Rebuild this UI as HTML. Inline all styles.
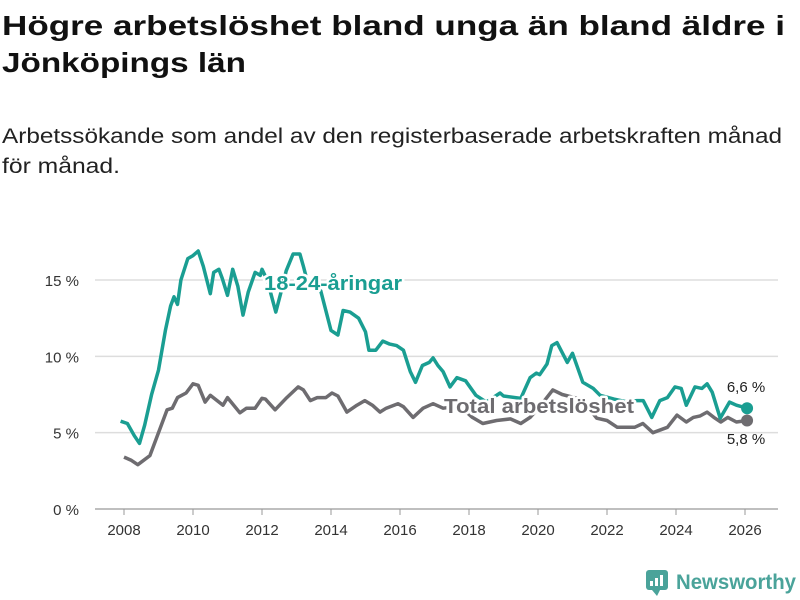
<!DOCTYPE html>
<html><head><meta charset="utf-8">
<style>
html,body{margin:0;padding:0;background:#fff;}
svg{display:block;font-family:"Liberation Sans","DejaVu Sans",sans-serif;}
</style></head>
<body>
<svg id="chart" width="800" height="600" viewBox="0 0 800 600">
  <text x="2" y="35" font-size="28" font-weight="bold" fill="#111" textLength="783" lengthAdjust="spacingAndGlyphs">Högre arbetslöshet bland unga än bland äldre i</text>
  <text x="2" y="72" font-size="28" font-weight="bold" fill="#111" textLength="244" lengthAdjust="spacingAndGlyphs">Jönköpings län</text>
  <text x="2" y="143" font-size="21" fill="#222" textLength="780" lengthAdjust="spacingAndGlyphs">Arbetssökande som andel av den registerbaserade arbetskraften månad</text>
  <text x="2" y="173" font-size="21" fill="#222" textLength="118" lengthAdjust="spacingAndGlyphs">för månad.</text>
  <g id="grid"></g>
  <g id="xaxis"></g>
  <g id="series"></g>
  <g id="labels"></g>
  <g>
    <rect x="646" y="570" width="22" height="20" rx="3" fill="#4aa39a"/>
    <path d="M652 590 L657 596 L660 590 Z" fill="#4aa39a"/>
    <rect x="650" y="581" width="3" height="5" fill="#fff"/>
    <rect x="655" y="578" width="3" height="8" fill="#fff"/>
    <rect x="660" y="575" width="3" height="11" fill="#fff"/>
    <text x="676" y="589" font-size="21" font-weight="bold" fill="#4aa39a" textLength="120" lengthAdjust="spacingAndGlyphs">Newsworthy</text>
  </g>
</svg>
<script>
const yTicks = [0, 5, 10, 15];
const xTicks = [2008, 2010, 2012, 2014, 2016, 2018, 2020, 2022, 2024, 2026];
const youthDates = [2007.9,2008.1,2008.3,2008.45,2008.6,2008.8,2009.0,2009.2,2009.35,2009.45,2009.55,2009.65,2009.85,2010.0,2010.15,2010.3,2010.5,2010.6,2010.75,2010.85,2011.0,2011.15,2011.3,2011.45,2011.6,2011.8,2011.95,2012.0,2012.15,2012.4,2012.55,2012.7,2012.9,2013.1,2013.2,2013.35,2013.7,2014.0,2014.2,2014.35,2014.55,2014.8,2015.0,2015.1,2015.3,2015.5,2015.7,2015.9,2016.1,2016.3,2016.45,2016.65,2016.85,2016.96,2017.1,2017.25,2017.45,2017.65,2017.9,2018.2,2018.5,2018.9,2019.0,2019.5,2019.77,2019.95,2020.05,2020.26,2020.4,2020.55,2020.85,2021.0,2021.3,2021.6,2021.8,2022.2,2022.6,2022.87,2023.05,2023.3,2023.53,2023.75,2023.97,2024.15,2024.3,2024.55,2024.75,2024.9,2025.05,2025.28,2025.55,2025.75,2026.06];
const youthValues = [5.75,5.6,4.8,4.3,5.5,7.5,9.1,11.7,13.3,13.9,13.4,15.0,16.4,16.6,16.9,15.9,14.1,15.5,15.7,15.1,14.0,15.7,14.6,12.7,14.2,15.5,15.3,15.7,15.0,12.9,14.2,15.6,16.7,16.7,15.9,14.6,14.3,11.7,11.4,13.0,12.9,12.5,11.6,10.4,10.4,11.0,10.8,10.7,10.4,9.0,8.3,9.4,9.6,9.9,9.4,9.0,8.0,8.6,8.4,7.45,7.0,7.6,7.4,7.25,8.6,8.9,8.8,9.5,10.7,10.9,9.6,10.2,8.3,7.9,7.45,7.2,7.0,7.1,7.1,6.0,7.1,7.3,8.0,7.9,6.8,8.0,7.9,8.2,7.65,5.95,7.0,6.8,6.6];
const totalDates = [2008.0,2008.2,2008.4,2008.75,2008.95,2009.25,2009.4,2009.55,2009.8,2010.0,2010.15,2010.35,2010.5,2010.87,2011.0,2011.36,2011.55,2011.8,2012.0,2012.1,2012.38,2012.72,2013.05,2013.2,2013.4,2013.6,2013.85,2014.03,2014.2,2014.46,2014.75,2014.98,2015.2,2015.42,2015.6,2015.94,2016.1,2016.38,2016.67,2016.96,2017.25,2017.6,2017.9,2018.1,2018.4,2018.8,2019.2,2019.5,2019.77,2020.05,2020.43,2020.7,2021.13,2021.4,2021.7,2022.0,2022.3,2022.8,2023.04,2023.33,2023.75,2024.03,2024.3,2024.5,2024.7,2024.9,2025.1,2025.3,2025.5,2025.75,2026.06];
const totalValues = [3.4,3.2,2.9,3.5,4.7,6.5,6.6,7.3,7.6,8.2,8.1,7.0,7.45,6.8,7.3,6.3,6.6,6.6,7.25,7.2,6.5,7.3,8.0,7.8,7.1,7.3,7.3,7.6,7.4,6.35,6.8,7.1,6.8,6.35,6.6,6.9,6.7,6.0,6.6,6.9,6.6,6.7,6.4,6.0,5.6,5.8,5.9,5.6,6.0,6.7,7.8,7.5,7.25,6.8,5.95,5.8,5.35,5.35,5.6,5.0,5.35,6.15,5.7,6.0,6.1,6.35,6.0,5.7,6.0,5.7,5.8];

const NS = "http://www.w3.org/2000/svg";
const x0 = 95, x1 = 778;
function xScale(t){ return 124 + (t - 2008) * (745 - 124) / 18; }
function yScale(v){ return 509 - v * (509 - 280) / 15; }
function mk(tag, attrs, parent){ const e=document.createElementNS(NS,tag); for(const k in attrs) e.setAttribute(k,attrs[k]); parent.appendChild(e); return e; }

const grid = document.getElementById('grid');
yTicks.forEach(v=>{
  const l = mk('line',{x1:x0,x2:x1,y1:yScale(v),y2:yScale(v),stroke:v===0?'#999':'#ddd','stroke-width':v===0?1.2:1.5},grid);
  
  
  const t = mk('text',{x:79,y:yScale(v)+6,'font-size':15,fill:'#333','text-anchor':'end'},grid);
  t.textContent = v + ' %';
  
  
});
const xa = document.getElementById('xaxis');
xTicks.forEach(yr=>{
  const tk = mk('line',{x1:xScale(yr),x2:xScale(yr),y1:509,y2:515,stroke:'#999'},xa);
  
  
  const t = mk('text',{x:xScale(yr),y:535,'font-size':15,fill:'#333','text-anchor':'middle'},xa);
  t.textContent = yr;
  
  
});

const series = document.getElementById('series');
function drawLine(dates, vals, color, name){
  const d = dates.map((t,i)=>(i?'L':'M')+xScale(t).toFixed(1)+' '+yScale(vals[i]).toFixed(1)).join(' ');
  const p = mk('path',{d:d,fill:'none',stroke:color,'stroke-width':3.5,'stroke-linejoin':'round'},series);
  
  
  const n = dates.length-1;
  const c = mk('circle',{cx:xScale(dates[n]),cy:yScale(vals[n]),r:6,fill:color},series);
  
  
}
drawLine(totalDates, totalValues, '#6e6c70', 'total-line');
drawLine(youthDates, youthValues, '#1a9e92', 'youth-line');

const labels = document.getElementById('labels');
function lbl(txt,x,y,color,name,extra){
  const t = mk('text',Object.assign({x:x,y:y,'font-size':20,'font-weight':'bold',fill:color,stroke:'#fff','stroke-width':5,'paint-order':'stroke','stroke-linejoin':'round'},extra||{}),labels);
  t.textContent = txt;
  
  
}
lbl('18-24-åringar',264,290,'#1a9e92','youth-series-label',{textLength:138,lengthAdjust:'spacingAndGlyphs'});
lbl('Total arbetslöshet',444,413,'#6e6c70','total-series-label',{textLength:190,lengthAdjust:'spacingAndGlyphs'});
const e1 = mk('text',{x:746,y:392,'font-size':15,fill:'#222','text-anchor':'middle'},labels);
e1.textContent = '6,6 %';


const e2 = mk('text',{x:746,y:444,'font-size':15,fill:'#222','text-anchor':'middle'},labels);
e2.textContent = '5,8 %';


</script>
</body></html>
